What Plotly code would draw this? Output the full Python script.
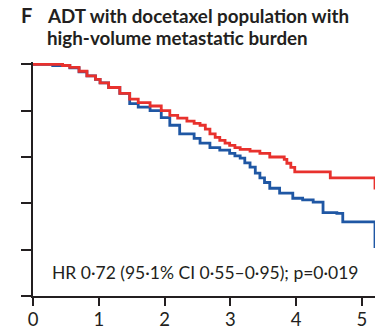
import plotly.graph_objects as go

# Kaplan-Meier style step data (years, survival proportion)
red_t = [0, 0.45, 0.56, 0.7, 0.82, 0.95, 1.02, 1.15, 1.32, 1.47, 1.6, 1.78, 1.95, 2.08, 2.2, 2.34, 2.45, 2.54, 2.62, 2.69, 2.77, 2.84, 2.92, 2.99, 3.07, 3.15, 3.3, 3.45, 3.6, 3.75, 3.82, 3.86, 3.92, 3.98, 4.51, 4.52, 5.15, 5.2]
red_s = [1.0, 0.995, 0.987, 0.97, 0.95, 0.935, 0.92, 0.9, 0.875, 0.85, 0.835, 0.82, 0.8, 0.78, 0.768, 0.755, 0.745, 0.737, 0.72, 0.70, 0.685, 0.672, 0.66, 0.65, 0.64, 0.633, 0.625, 0.616, 0.60, 0.60, 0.59, 0.573, 0.555, 0.536, 0.536, 0.51, 0.51, 0.46]

blue_t = [0, 0.3, 0.56, 0.7, 0.82, 0.95, 1.02, 1.15, 1.32, 1.47, 1.6, 1.78, 1.95, 2.08, 2.23, 2.34, 2.45, 2.54, 2.69, 2.84, 2.99, 3.07, 3.15, 3.22, 3.3, 3.38, 3.45, 3.52, 3.6, 3.75, 3.95, 4.1, 4.26, 4.41, 4.62, 4.71, 5.15, 5.2]
blue_s = [1.0, 0.995, 0.985, 0.968, 0.95, 0.935, 0.92, 0.9, 0.875, 0.83, 0.815, 0.80, 0.77, 0.737, 0.70, 0.70, 0.68, 0.66, 0.64, 0.63, 0.616, 0.605, 0.595, 0.575, 0.556, 0.53, 0.51, 0.49, 0.465, 0.444, 0.422, 0.415, 0.405, 0.36, 0.357, 0.32, 0.32, 0.207]

x_ticks = [0, 1, 2, 3, 4, 5]
y_ticks = [0, 0.2, 0.4, 0.6, 0.8, 1.0]

RED = "#e8312d"
BLUE = "#1f57a4"
INK = "#231f20"
FONT = "Lato"

fig = go.Figure()
fig.add_trace(go.Scatter(x=blue_t, y=blue_s, mode="lines", line=dict(color=BLUE, width=2.8, shape="hv"), showlegend=False))
fig.add_trace(go.Scatter(x=red_t, y=red_s, mode="lines", line=dict(color=RED, width=2.8, shape="hv"), showlegend=False))

fig.update_layout(
    width=375, height=330,
    margin=dict(l=33, r=0, t=62, b=34),
    paper_bgcolor="white", plot_bgcolor="white",
    font=dict(family=FONT, color=INK),
    xaxis=dict(range=[0, 5.2], tickvals=x_ticks, ticktext=[str(v) for v in x_ticks],
               showgrid=False, zeroline=False, showline=True, linecolor=INK, linewidth=2,
               ticks="outside", ticklen=8, tickwidth=2, tickcolor=INK, ticklabelstandoff=-2,
               tickfont=dict(size=18.5, family=FONT, color=INK)),
    yaxis=dict(range=[0, 1.01], tickvals=y_ticks, showticklabels=False,
               showgrid=False, zeroline=False, showline=True, linecolor=INK, linewidth=2,
               ticks="outside", ticklen=10, tickwidth=2, tickcolor=INK),
)
fig.add_annotation(text="HR 0·72 (95·1% CI 0·55–0·95); p=0·019", xref="x", yref="y",
                   x=0.26, y=0.103, xanchor="left", yanchor="middle", showarrow=False,
                   font=dict(size=17.5, family=FONT, color=INK))
fig.add_annotation(text="<b>F</b>", xref="paper", yref="paper", x=(19 - 33)/342, y=1 + (62 - 15)/234,
                   xanchor="left", yanchor="middle", showarrow=False,
                   font=dict(size=20, family=FONT, color=INK))
fig.add_annotation(text="<b>ADT with docetaxel population with</b>", xref="paper", yref="paper",
                   x=(45 - 33)/342, y=1 + (62 - 15)/234, xanchor="left", yanchor="middle", showarrow=False,
                   font=dict(size=18.8, family=FONT, color=INK))
fig.add_annotation(text="<b>high-volume metastatic burden</b>", xref="paper", yref="paper",
                   x=(45 - 33)/342, y=1 + (62 - 38)/234, xanchor="left", yanchor="middle", showarrow=False,
                   font=dict(size=18.8, family=FONT, color=INK))

fig.write_html("out.html")
